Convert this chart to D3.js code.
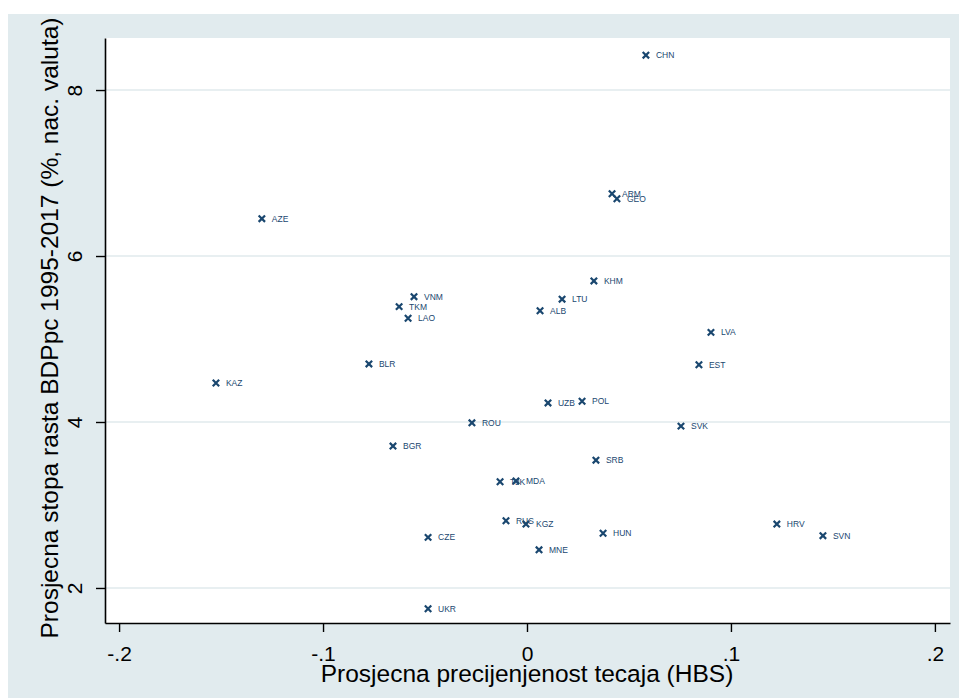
<!DOCTYPE html>
<html><head><meta charset="utf-8">
<script src="https://cdn.jsdelivr.net/npm/d3@7"></script>
<style>html,body{margin:0;padding:0;background:#fff;}svg{display:block;}</style>
</head><body>
<script>
const countries = ["CHN","ARM","GEO","AZE","KHM","VNM","LTU","TKM","ALB","LAO","LVA","BLR","EST","KAZ","UZB","POL","ROU","SVK","BGR","SRB","TJK","MDA","RUS","KGZ","HUN","CZE","MNE","UKR","HRV","SVN"];
const overvaluation = [0.0583,0.0417,0.0441,-0.1300,0.0328,-0.0554,0.0172,-0.0627,0.0064,-0.0583,0.0902,-0.0775,0.0843,-0.1525,0.0103,0.0270,-0.0270,0.0755,-0.0657,0.0338,-0.0132,-0.0054,-0.0103,-0.0005,0.0373,-0.0485,0.0059,-0.0485,0.1225,0.1451];
const growth = [8.42,6.75,6.69,6.45,5.70,5.51,5.48,5.39,5.34,5.25,5.08,4.70,4.69,4.47,4.23,4.25,3.99,3.95,3.71,3.54,3.28,3.29,2.81,2.77,2.66,2.61,2.46,1.75,2.77,2.63];
const xTicks = [-0.2,-0.1,0,0.1,0.2];
const xTickLabels = ["-.2","-.1","0",".1",".2"];
const yTicks = [2,4,6,8];
const yTickLabels = ["2","4","6","8"];
const xTitle = "Prosjecna precijenjenost tecaja (HBS)";
const yTitle = "Prosjecna stopa rasta BDPpc 1995-2017 (%, nac. valuta)";

const W = 959, H = 698;
const navy = "#1a476f";
const font = "'Liberation Sans', Arial, sans-serif";
const svg = d3.select("body").append("svg").attr("width", W).attr("height", H);

// outer graph region
svg.append("rect").attr("x", 8).attr("y", 14).attr("width", W - 8).attr("height", H - 14).attr("fill", "#e1ebee");

const plot = {left: 105, top: 38, right: 950, bottom: 623};
svg.append("rect").attr("x", plot.left).attr("y", plot.top)
  .attr("width", plot.right - plot.left).attr("height", plot.bottom - plot.top).attr("fill", "#fff");

const x = d3.scaleLinear().domain([-0.2069, 0.2074]).range([plot.left, plot.right]);
const y = d3.scaleLinear().domain([1.578, 8.627]).range([plot.bottom, plot.top]);

// grid
svg.append("g").selectAll("line").data(yTicks).join("line")
  .attr("x1", plot.left).attr("x2", plot.right)
  .attr("y1", d => y(d)).attr("y2", d => y(d))
  .attr("stroke", "#e0eaec").attr("stroke-width", 1.5);

// x axis
const xAxis = svg.append("g").attr("transform", `translate(0,${plot.bottom})`)
  .call(d3.axisBottom(x).tickValues(xTicks).tickFormat((d, i) => xTickLabels[i]).tickSize(9).tickSizeOuter(0));
xAxis.select(".domain").attr("stroke", "#000").attr("stroke-width", 1.6);
xAxis.selectAll(".tick line").attr("stroke", "#000").attr("stroke-width", 1.4);
xAxis.selectAll("text").attr("font-family", font).attr("font-size", 21).attr("fill", "#000")
  .attr("y", 38).attr("dy", null);

// y axis
const yAxis = svg.append("g").attr("transform", `translate(${plot.left},0)`)
  .call(d3.axisLeft(y).tickValues(yTicks).tickFormat((d, i) => yTickLabels[i]).tickSize(9).tickSizeOuter(0));
yAxis.select(".domain").attr("stroke", "#000").attr("stroke-width", 1.6);
yAxis.selectAll(".tick line").attr("stroke", "#000").attr("stroke-width", 1.4);
yAxis.selectAll("text").attr("font-family", font).attr("font-size", 21).attr("fill", "#000")
  .attr("x", 0).attr("y", 0).attr("dy", null)
  .attr("text-anchor", "middle")
  .attr("transform", "translate(-23,0) rotate(-90)");

// titles
svg.append("text").attr("x", 527).attr("y", 682)
  .attr("text-anchor", "middle").attr("font-family", font).attr("font-size", 24.5).text(xTitle);
svg.append("text").attr("transform", `translate(58,328) rotate(-90)`)
  .attr("text-anchor", "middle").attr("font-family", font).attr("font-size", 24.5).text(yTitle);

// markers and labels
const pts = countries.map((c, i) => ({c, x: overvaluation[i], y: growth[i]}));
const s = 3.2;
const g = svg.append("g");
g.selectAll("path").data(pts).join("path")
  .attr("d", p => { const cx = x(p.x), cy = y(p.y); return `M${cx - s},${cy - s}L${cx + s},${cy + s}M${cx - s},${cy + s}L${cx + s},${cy - s}`; })
  .attr("stroke", navy).attr("stroke-width", 2.2);
g.selectAll("text").data(pts).join("text")
  .attr("x", p => x(p.x) + 10).attr("y", p => y(p.y) + 3)
  .attr("font-family", font).attr("font-size", 8.5).attr("fill", navy).text(p => p.c);
</script>
</body></html>
